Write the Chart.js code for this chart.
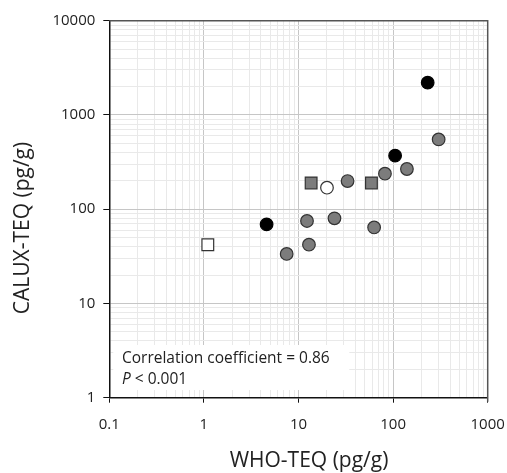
<!DOCTYPE html>
<html>
<head>
<meta charset="utf-8">
<script src="https://cdn.jsdelivr.net/npm/chart.js@4/dist/chart.umd.min.js"></script>
<style>
  html, body { margin: 0; padding: 0; background: #fff; }
  #wrap { width: 507px; height: 473px; }
</style>
</head>
<body>
<div id="wrap"><canvas id="c" width="507" height="473"></canvas></div>
<script>
// ---- data ----
const grayCirclesX = [303, 140, 82, 33, 24, 12.3, 63, 12.9, 7.5];
const grayCirclesY = [550, 267, 238, 199, 80, 75, 64, 42, 33.5];
const blackCirclesX = [232, 105, 4.6];
const blackCirclesY = [2200, 370, 69];
const whiteCirclesX = [20];
const whiteCirclesY = [169];
const graySquaresX = [13.6, 59];
const graySquaresY = [190, 190];
const whiteSquaresX = [1.1];
const whiteSquaresY = [42];

const xMajorTicks = [0.1, 1, 10, 100, 1000];
const yMajorTicks = [1, 10, 100, 1000, 10000];
const xTitle = 'WHO-TEQ (pg/g)';
const yTitle = 'CALUX-TEQ (pg/g)';
const noteLine1 = 'Correlation coefficient = 0.86';
const noteLine2P = 'P';
const noteLine2Rest = ' < 0.001';

function pts(xs, ys) { return xs.map((x, i) => ({ x: x, y: ys[i] })); }

// ticks: majors plus 2..9 minors in each decade
function allTicks(majors) {
  const out = [];
  for (let i = 0; i < majors.length; i++) {
    out.push(majors[i]);
    if (i < majors.length - 1) {
      for (let k = 2; k <= 9; k++) out.push(+(majors[i] * k).toPrecision(6));
    }
  }
  return out;
}
function isMajorVal(list, v) {
  return list.some(m => Math.abs(m - v) / m < 1e-6);
}

const FONT = "'Open Sans', 'Liberation Sans', sans-serif";

const framePlugin = {
  id: 'frame',
  afterDatasetsDraw(chart) {
    const { ctx, chartArea: a } = chart;
    ctx.save();
    // note box with white background
    ctx.fillStyle = '#ffffff';
    ctx.fillRect(a.left + 4, 345, 236, 45);
    ctx.fillStyle = '#222';
    ctx.font = "15.5px " + FONT;
    ctx.textBaseline = 'alphabetic';
    ctx.textAlign = 'left';
    ctx.fillText(noteLine1, 122, 363);
    ctx.font = "italic 15.5px " + FONT;
    ctx.fillText(noteLine2P, 122, 384);
    const w = ctx.measureText(noteLine2P).width;
    ctx.font = "15.5px " + FONT;
    ctx.fillText(noteLine2Rest, 122 + w, 384);
    ctx.restore();
  },
  afterDraw(chart) {
    const { ctx, chartArea: a } = chart;
    ctx.save();
    ctx.strokeStyle = '#555';
    ctx.lineWidth = 1.5;
    ctx.beginPath();
    ctx.moveTo(a.left, a.top);
    ctx.lineTo(a.right, a.top);
    ctx.lineTo(a.right, a.bottom + 4);
    ctx.stroke();
    // axis titles
    ctx.fillStyle = '#222';
    ctx.font = "21px " + FONT;
    ctx.textAlign = 'center';
    ctx.textBaseline = 'middle';
    ctx.fillText(xTitle, 309, 461);
    ctx.translate(23, 228);
    ctx.rotate(-Math.PI / 2);
    ctx.fillText(yTitle, 0, 0);
    ctx.restore();
  }
};

const common = { pointBorderWidth: 1.2, showLine: false };

new Chart(document.getElementById('c'), {
  type: 'scatter',
  data: {
    datasets: [
      Object.assign({ label: 'gray circles', data: pts(grayCirclesX, grayCirclesY),
        pointStyle: 'circle', pointRadius: 6.3, backgroundColor: '#7c7c7c', borderColor: '#333' }, common),
      Object.assign({ label: 'black circles', data: pts(blackCirclesX, blackCirclesY),
        pointStyle: 'circle', pointRadius: 6.3, backgroundColor: '#000', borderColor: '#000' }, common),
      Object.assign({ label: 'white circles', data: pts(whiteCirclesX, whiteCirclesY),
        pointStyle: 'circle', pointRadius: 6.3, backgroundColor: '#fff', borderColor: '#333' }, common),
      Object.assign({ label: 'gray squares', data: pts(graySquaresX, graySquaresY),
        pointStyle: 'rect', pointRadius: 8.3, backgroundColor: '#7c7c7c', borderColor: '#333' }, common),
      Object.assign({ label: 'white squares', data: pts(whiteSquaresX, whiteSquaresY),
        pointStyle: 'rect', pointRadius: 8.3, backgroundColor: '#fff', borderColor: '#333' }, common)
    ]
  },
  options: {
    responsive: false,
    animation: false,
    devicePixelRatio: 1,
    layout: { padding: { top: 20.7, right: 19.3, left: 0, bottom: 0 } },
    plugins: { legend: { display: false }, tooltip: { enabled: false } },
    scales: {
      x: {
        type: 'logarithmic',
        min: 0.1, max: 1000,
        afterBuildTicks: s => { s.ticks = allTicks(xMajorTicks).map(v => ({ value: v })); },
        afterFit: s => { s.height = 75.3; s.paddingRight = 0; s.paddingLeft = 0; },
        border: { display: true, color: '#111', width: 1.5 },
        grid: {
          color: c => isMajorVal(xMajorTicks, c.tick.value) ? '#c6c6c6' : '#e9e9e9',
          tickColor: c => isMajorVal(xMajorTicks, c.tick.value) ? '#111' : 'rgba(0,0,0,0)',
          tickLength: 5,
          lineWidth: 1
        },
        ticks: {
          autoSkip: false, maxRotation: 0, padding: 13,
          color: '#222',
          font: { family: FONT, size: 15 },
          callback: v => isMajorVal(xMajorTicks, v) ? String(v) : ''
        }
      },
      y: {
        type: 'logarithmic',
        min: 1, max: 10000,
        afterBuildTicks: s => { s.ticks = allTicks(yMajorTicks).map(v => ({ value: v })); },
        afterFit: s => { s.width = 109.3; s.paddingTop = 0; s.paddingBottom = 0; },
        border: { display: true, color: '#111', width: 1.5 },
        grid: {
          color: c => isMajorVal(yMajorTicks, c.tick.value) ? '#c6c6c6' : '#e9e9e9',
          tickColor: c => isMajorVal(yMajorTicks, c.tick.value) ? '#111' : 'rgba(0,0,0,0)',
          tickLength: 6,
          lineWidth: 1
        },
        ticks: {
          autoSkip: false, padding: 8,
          color: '#222',
          font: { family: FONT, size: 15 },
          callback: v => isMajorVal(yMajorTicks, v) ? String(v) : ''
        }
      }
    }
  },
  plugins: [framePlugin]
});
</script>
</body>
</html>
